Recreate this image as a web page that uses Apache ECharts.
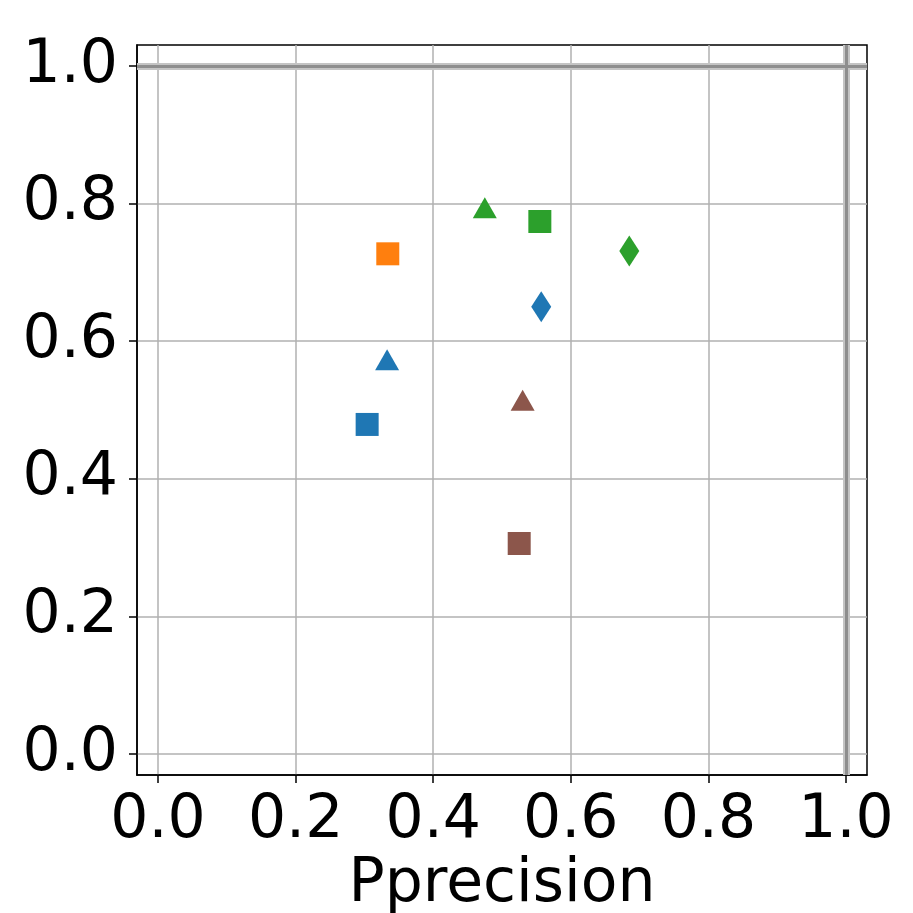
<!DOCTYPE html>
<html>
<head>
<meta charset="utf-8">
<script src="https://cdn.jsdelivr.net/npm/echarts@6/dist/echarts.min.js"></script>
<style>
  html, body { margin: 0; padding: 0; background: #fff; }
  #chart { width: 913px; height: 913px; }
</style>
</head>
<body>
<div id="chart"></div>
<script>
// points
var blueSquare = [[0.304, 0.479]]
var blueTriangle = [[0.333, 0.573]]
var blueDiamond = [[0.557, 0.650]]
var orangeSquare = [[0.334, 0.727]]
var greenTriangle = [[0.475, 0.794]]
var greenSquare = [[0.555, 0.774]]
var greenDiamond = [[0.685, 0.731]]
var brownTriangle = [[0.530, 0.514]]
var brownSquare = [[0.525, 0.306]]
var tickValues = [0, 0.2, 0.4, 0.6, 0.8, 1.0]
var xLabel = 'Pprecision'

var font = 'DejaVu Sans'
var diamond = 'path://M0,-1L0.65,0L0,1L-0.65,0Z'
var triangle = 'path://M0,-1L1.1,1L-1.1,1Z'

function pts(data, color, symbol, size) {
  return {
    type: 'scatter',
    data: data,
    symbol: symbol,
    symbolSize: size,
    itemStyle: { color: color, opacity: 1 },
    z: 5
  }
}

function axis(name, margin) {
  return {
    type: 'value',
    min: -0.0305,
    max: 1.0305,
    name: name,
    nameLocation: 'middle',
    nameGap: 79,
    nameTextStyle: { fontFamily: font, fontSize: 60, color: '#000' },
    axisLine: { show: true, onZero: false, lineStyle: { color: '#000', width: 1.5 } },
    axisTick: { show: true, length: 8, customValues: tickValues, lineStyle: { color: '#000', width: 1.5 } },
    axisLabel: {
      customValues: tickValues,
      fontFamily: font, fontSize: 60, color: '#000', margin: margin,
      formatter: function (v) { return v.toFixed(1) }
    },
    splitLine: { show: true, lineStyle: { color: '#b0b0b0', width: 1.5 } }
  }
}

var chart = echarts.init(document.getElementById('chart'))
var option = {
  animation: false,
  grid: {
    left: 137, right: 46, top: 45, bottom: 138,
    outerBoundsMode: 'none',
    show: true, borderColor: '#000', borderWidth: 1.5
  },
  xAxis: axis(xLabel, 16),
  yAxis: axis('', 19),
  series: [
    {
      type: 'scatter',
      data: [],
      markLine: {
        silent: true,
        symbol: 'none',
        label: { show: false },
        lineStyle: { color: '#c4c4c4', width: 7, type: 'solid' },
        data: [{ xAxis: 1.0 }, { yAxis: 1.0 }]
      },
      z: 2
    },
    {
      type: 'scatter',
      data: [],
      markLine: {
        silent: true,
        symbol: 'none',
        label: { show: false },
        lineStyle: { color: '#8e8e8e', width: 3, type: 'solid' },
        data: [{ xAxis: 1.0 }, { yAxis: 1.0 }]
      },
      z: 3
    },
    pts(blueSquare, '#1f77b4', 'rect', 23),
    pts(blueTriangle, '#1f77b4', triangle, [24, 21]),
    pts(blueDiamond, '#1f77b4', diamond, [20, 31]),
    pts(orangeSquare, '#ff7f0e', 'rect', 23),
    pts(greenTriangle, '#2ca02c', triangle, [24, 21]),
    pts(greenSquare, '#2ca02c', 'rect', 23),
    pts(greenDiamond, '#2ca02c', diamond, [20, 31]),
    pts(brownTriangle, '#8c564b', triangle, [24, 21]),
    pts(brownSquare, '#8c564b', 'rect', 23)
  ]
}
chart.setOption(option)
</script>
</body>
</html>
